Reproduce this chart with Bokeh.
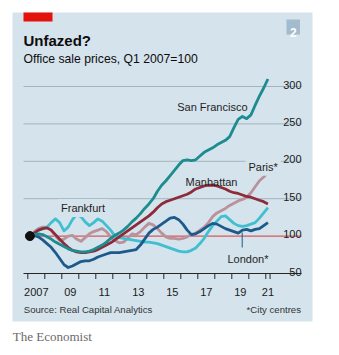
from bokeh.plotting import figure
from bokeh.models import Range1d, BoxAnnotation, Label
from bokeh.core.properties import value
from bokeh.embed import file_html
from bokeh.resources import INLINE

# ---------------- data (quarterly, Q1 2007 = 100) ----------------
years_first = 2007
n_quarters = 57  # Q1 2007 .. Q1 2021
quarters = [years_first + i * 0.25 + 0.125 for i in range(n_quarters)]

san_francisco = [100, 102, 103, 102,
                 99, 96, 92, 89,
                 86, 83, 81, 80,
                 79, 79, 80, 82,
                 85, 88, 92, 97,
                 101, 104, 108, 113,
                 119, 124, 130, 137,
                 143, 150, 160, 168,
                 174, 181, 188, 195,
                 201, 202, 201, 202,
                 207, 212, 215, 218,
                 222, 225, 228, 233,
                 245, 256, 260, 257,
                 262, 275, 287, 298,
                 310]

manhattan = [100, 104, 108, 110,
             111, 108, 102, 96,
             90, 85, 81, 79,
             78, 78, 79, 80,
             82, 85, 88, 91,
             95, 99, 103, 107,
             111, 115, 119, 123,
             127, 132, 138, 143,
             146, 148, 150, 152,
             154, 156, 159, 163,
             165, 167, 168, 168,
             167, 165, 163, 160,
             158, 157, 155, 153,
             152, 150, 148, 146,
             143]

paris = [100, 106, 110, 112,
         112, 108, 100, 94,
         96, 100, 101, 96,
         93, 98, 103, 106,
         108, 110, 106, 99,
         94, 91, 92, 97,
         103, 102, 106, 112,
         117, 115, 110, 104,
         99, 97, 97, 96,
         97, 99, 102, 104,
         108, 112, 118, 126,
         131, 134, 137, 141,
         144, 147, 149, 152,
         158, 166, 174, 179,
         185]

frankfurt = [100, 104, 108, 110,
             112, 118, 123, 118,
             107, 112, 122, 129,
             126, 119, 114, 118,
             123, 120, 114, 108,
             100, 98, 97, 96,
             95, 94, 93, 92,
             92, 91, 90, 88,
             86, 84, 82, 80,
             79, 79, 81, 84,
             90, 97, 106, 114,
             120, 126, 127, 122,
             117, 114, 113, 114,
             116, 118, 124, 131,
             138]

london = [100, 101, 99, 95,
          90, 85, 78, 70,
          62, 58, 60, 63,
          66, 67, 67, 69,
          72, 74, 76, 78,
          78, 78, 79, 80,
          81, 82, 88, 96,
          104, 109, 112, 116,
          120, 124, 125, 122,
          116, 108, 102, 103,
          106, 110, 114, 117,
          116, 113, 110, 108,
          106, 104, 108, 109,
          107, 109, 110, 114,
          118]

y_ticks = [50, 100, 150, 200, 250, 300]
y_tick_labels = ["50", "100", "150", "200", "250", "300"]
grid_values = [150, 200, 250, 300]
baseline_value = 100
x_tick_years = [2007, 2008, 2009, 2010, 2011, 2012, 2013, 2014, 2015,
                2016, 2017, 2018, 2019, 2020, 2021, 2021.25]
x_label_pos = [2007.5, 2009.5, 2011.5, 2013.5, 2015.5, 2017.5, 2019.5, 2021.125]
x_labels = ["2007", "09", "11", "13", "15", "17", "19", "21"]

# ---------------- pixel <-> data helpers (layout only) ----------------
W, H = 339, 355
def xd(px):
    return 2007 + (px - 27.3) / 17.0
def yd(py):
    return 50 + (273.0 - py) / 0.748

PANEL = "#d5e3ec"
GRID = "#a3b4bf"
SANS = "Liberation Sans"
FONT = value(SANS)

p = figure(width=W, height=H, output_backend="svg", toolbar_location=None,
           x_range=Range1d(xd(0), xd(W)), y_range=Range1d(yd(H), yd(0)),
           x_axis_type=None, y_axis_type=None, min_border=0,
           outline_line_color=None, background_fill_color="white",
           border_fill_color="white")
p.xgrid.visible = False
p.ygrid.visible = False

# panel and header decorations
p.add_layout(BoxAnnotation(left=xd(12), right=xd(312), top=yd(12), bottom=yd(321),
                           fill_color=PANEL, fill_alpha=1, line_color=None, level="underlay"))
p.add_layout(BoxAnnotation(left=xd(23), right=xd(52), top=yd(12), bottom=yd(21),
                           fill_color="#e3120b", fill_alpha=1, line_color=None, level="underlay"))
p.add_layout(BoxAnnotation(left=xd(286), right=xd(299.5), top=yd(19), bottom=yd(34),
                           fill_color="#a2bccd", fill_alpha=1, line_color=None, level="underlay"))

# gridlines
p.segment(x0=[xd(23)] * len(grid_values), x1=[xd(301)] * len(grid_values),
          y0=grid_values, y1=grid_values, line_color=GRID, line_width=1)
# red 100 line
p.segment(x0=[quarters[0]], x1=[xd(301)], y0=[baseline_value], y1=[baseline_value],
          line_color="#d9585b", line_width=1.2)
# x axis line
p.segment(x0=[xd(23)], x1=[xd(301)], y0=[y_ticks[0]], y1=[y_ticks[0]],
          line_color="#262626", line_width=1)
# x ticks
p.segment(x0=x_tick_years, x1=x_tick_years,
          y0=[y_ticks[0]] * len(x_tick_years), y1=[yd(278.5)] * len(x_tick_years),
          line_color="#262626", line_width=1)

# x tick labels
p.text(x=x_label_pos, y=[yd(291.5)] * len(x_label_pos), text=x_labels,
       text_align="center", text_baseline="alphabetic", text_font=FONT,
       text_font_size="11px", text_color="#1a1a1a")
# y tick labels
p.text(x=[xd(301)] * len(y_ticks), y=y_ticks, text=y_tick_labels, y_offset=-2,
       text_align="right", text_baseline="alphabetic", text_font=FONT,
       text_font_size="11px", text_color="#1a1a1a")

# series lines
LW = 2.8
p.line(quarters, paris, line_color="#b9929c", line_width=LW, line_join="round")
p.line(quarters, frankfurt, line_color="#40bfd0", line_width=LW, line_join="round")
p.line(quarters, london, line_color="#1c5a8c", line_width=LW, line_join="round")
p.line(quarters, manhattan, line_color="#8d2b3b", line_width=LW, line_join="round")
p.line(quarters, san_francisco, line_color="#1d8c8f", line_width=LW, line_join="round")
p.scatter([quarters[0]], [san_francisco[0]], size=9, color="#111111")

# London leader
p.segment(x0=[xd(241.7)], x1=[xd(241.7)], y0=[yd(232)], y1=[yd(247)],
          line_color="#1c5a8c", line_width=1)

def lab(txt, px, py, size="11px", bold=False, align="left", color="#1e1e1e",
        bg=None, font=SANS):
    kw = dict(x=xd(px), y=yd(py), text=txt, text_font=font, text_font_size=size,
              text_color=color, text_align=align, text_baseline="alphabetic",
              text_font_style="bold" if bold else "normal")
    if bg is not None:
        kw.update(background_fill_color=bg, background_fill_alpha=1, padding=3)
    p.add_layout(Label(**kw))

lab("Unfazed?", 23, 39.5, size="15px", bold=True, color="#0d0d0d")
lab("Office sale prices, Q1 2007=100", 23, 58.5, size="12.2px", color="#0d0d0d")
lab("2", 292.8, 31.5, size="12px", bold=True, align="center", color="white")

lab("San Francisco", 176.7, 106.5)
lab("Paris*", 245, 166.3, bg=PANEL)
lab("Manhattan", 185, 181.5)
lab("Frankfurt", 57.5, 207.5, bg=PANEL)
lab("London*", 227, 258)

lab("Source: Real Capital Analytics", 23.3, 309, size="9.6px", color="#333333")
lab("*City centres", 300.5, 309, size="9.6px", align="right", color="#333333")
lab("The Economist", 12.3, 335.5, size="13px", color="#6b6b6b",
    font="Liberation Serif")

open("out.html", "w").write(file_html(p, INLINE))
